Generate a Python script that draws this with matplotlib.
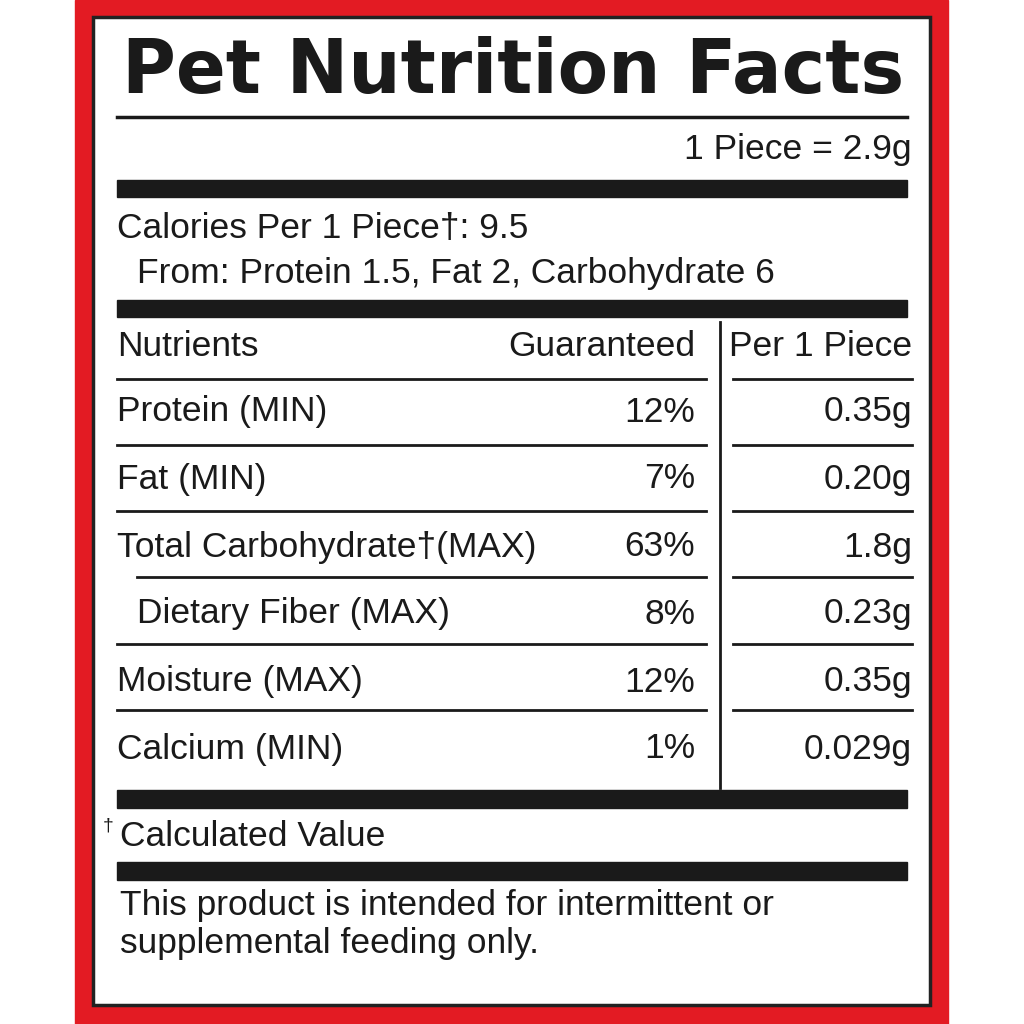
import matplotlib
matplotlib.use("Agg")
import matplotlib.pyplot as plt
from matplotlib.patches import Rectangle

nutrients = ["Protein (MIN)", "Fat (MIN)", "Total Carbohydrate\u2020(MAX)", "Dietary Fiber (MAX)", "Moisture (MAX)", "Calcium (MIN)"]
indent = [False, False, False, True, False, False]
guaranteed = ["12%", "7%", "63%", "8%", "12%", "1%"]
per_piece = ["0.35g", "0.20g", "1.8g", "0.23g", "0.35g", "0.029g"]

fig = plt.figure(figsize=(10.24, 10.24), dpi=100)
ax = fig.add_axes([0, 0, 1, 1])
ax.set_xlim(0, 1024); ax.set_ylim(1024, 0); ax.axis("off")
F = "Liberation Sans"
red = "#e31b23"
ax.add_patch(Rectangle((75, 0), 873, 1024, color=red))
ax.add_patch(Rectangle((93, 17), 837, 988, facecolor="white", edgecolor="#222", lw=2.5))

ax.text(513, 72, "Pet Nutrition Facts", ha="center", va="center", fontsize=53, fontweight="heavy", family="DejaVu Sans", color="#1a1a1a")
ax.plot([117, 907], [117, 117], color="#1a1a1a", lw=2.5)
fs = 25.5
ax.text(912, 150, "1 Piece = 2.9g", ha="right", va="center", fontsize=fs, family=F, color="#1a1a1a")
for y0, y1 in [(180, 197), (300, 317), (790, 808), (862, 880)]:
    ax.add_patch(Rectangle((117, y0), 790, y1 - y0, color="#1a1a1a"))
ax.text(117, 229, "Calories Per 1 Piece\u2020: 9.5", va="center", fontsize=fs, family=F, color="#1a1a1a")
ax.text(137, 274, "From: Protein 1.5, Fat 2, Carbohydrate 6", va="center", fontsize=fs, family=F, color="#1a1a1a")
ax.text(117, 347, "Nutrients", va="center", fontsize=fs, family=F, color="#1a1a1a")
ax.text(695, 347, "Guaranteed", ha="right", va="center", fontsize=fs, family=F, color="#1a1a1a")
ax.text(912, 347, "Per 1 Piece", ha="right", va="center", fontsize=fs, family=F, color="#1a1a1a")
ax.plot([720, 720], [322, 788], color="#1a1a1a", lw=2)
line_y = [379, 445, 511, 577, 644, 710]
row_y = [412, 479, 547, 614, 682, 749]
for i, (n, g, p) in enumerate(zip(nutrients, guaranteed, per_piece)):
    ly = line_y[i]
    ax.plot([137 if indent[i] else 117, 706], [ly, ly], color="#1a1a1a", lw=2)
    ax.plot([733, 912], [ly, ly], color="#1a1a1a", lw=2)
    y = row_y[i]
    ax.text(137 if indent[i] else 117, y, n, va="center", fontsize=fs, family=F, color="#1a1a1a")
    ax.text(695, y, g, ha="right", va="center", fontsize=fs, family=F, color="#1a1a1a")
    ax.text(912, y, p, ha="right", va="center", fontsize=fs, family=F, color="#1a1a1a")
ax.text(103, 826, "\u2020", va="center", fontsize=14, family=F, color="#1a1a1a")
ax.text(120, 836, "Calculated Value", va="center", fontsize=fs, family=F, color="#1a1a1a")
ax.text(120, 906, "This product is intended for intermittent or", va="center", fontsize=fs, family=F, color="#1a1a1a")
ax.text(120, 944, "supplemental feeding only.", va="center", fontsize=fs, family=F, color="#1a1a1a")
fig.savefig("out.png", dpi=100)
